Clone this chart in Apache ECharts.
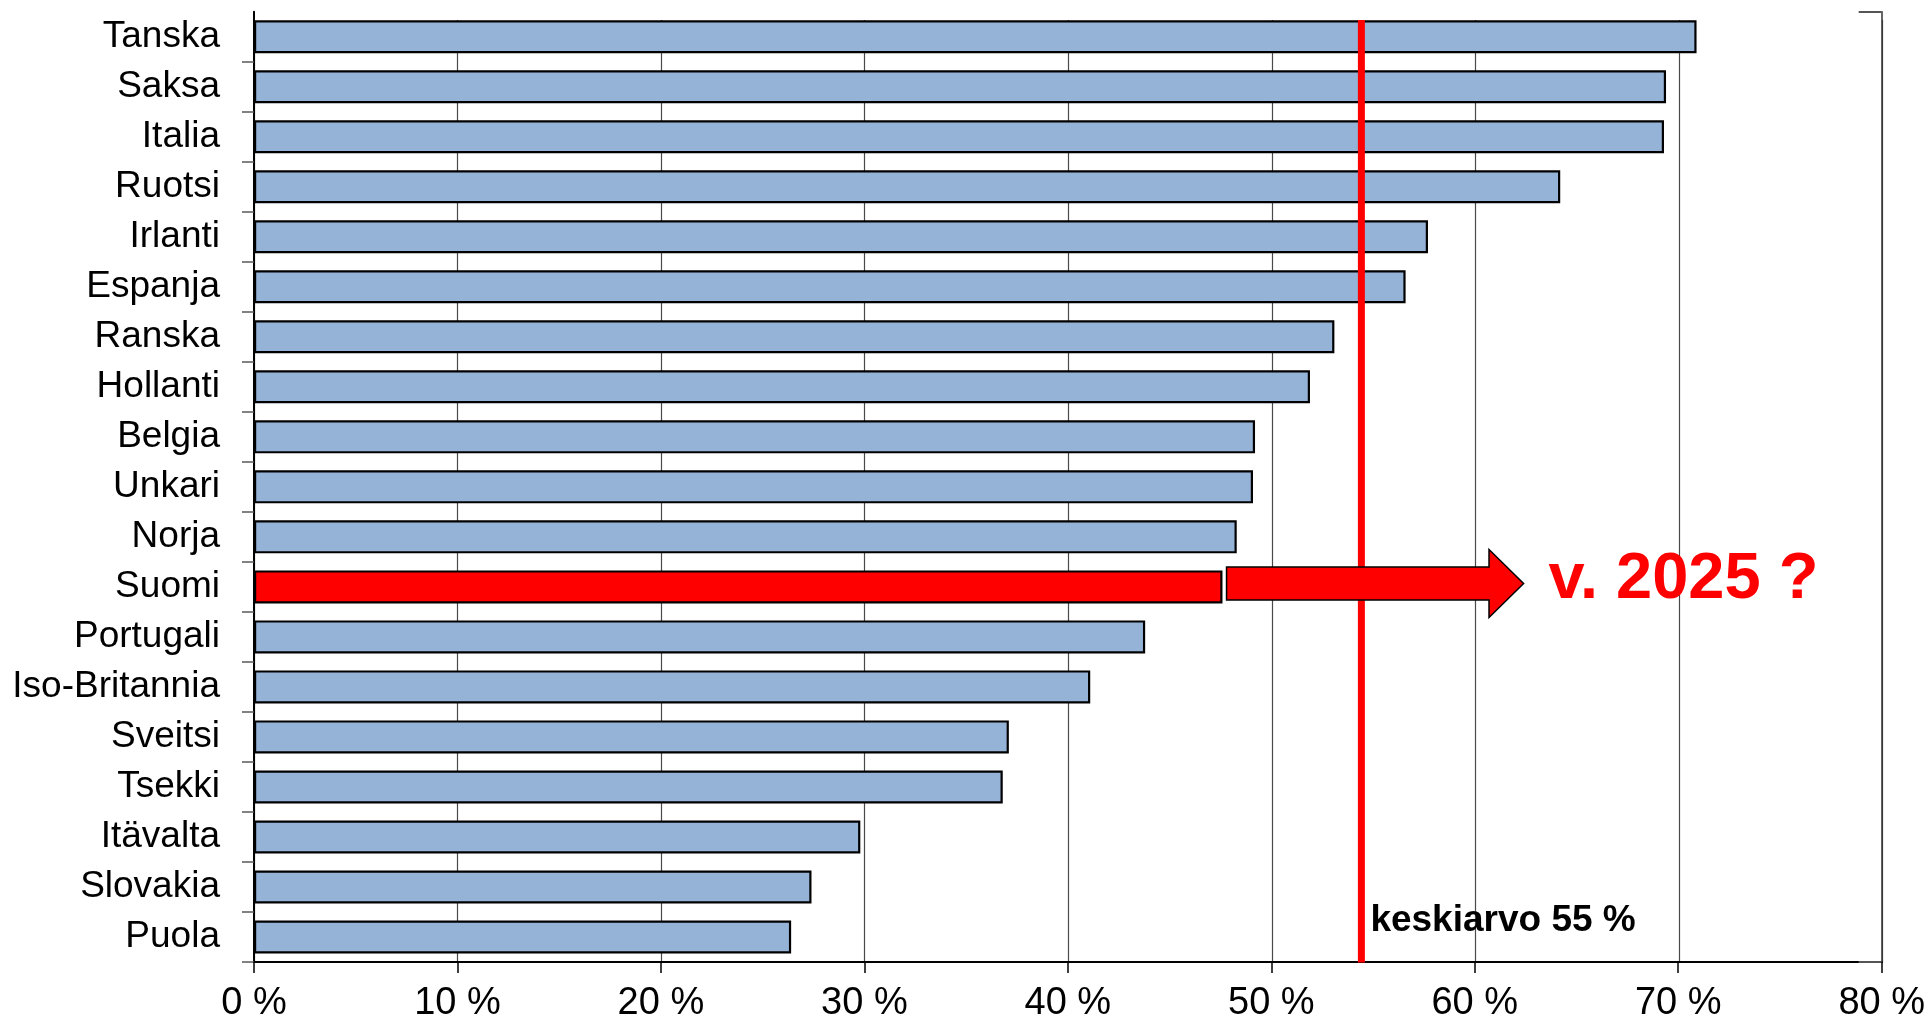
<!DOCTYPE html>
<html>
<head>
<meta charset="utf-8">
<script src="https://cdn.jsdelivr.net/npm/echarts@6/dist/echarts.min.js"></script>
<style>
  html, body { margin: 0; padding: 0; background: #fff; }
  #chart { width: 1928px; height: 1023px; }
</style>
</head>
<body>
<div id="chart"></div>
<script>
// data
const countries = ['Tanska', 'Saksa', 'Italia', 'Ruotsi', 'Irlanti', 'Espanja', 'Ranska', 'Hollanti', 'Belgia', 'Unkari',
    'Norja', 'Suomi', 'Portugali', 'Iso-Britannia', 'Sveitsi', 'Tsekki', 'Itävalta', 'Slovakia', 'Puola']
const shares = [70.9, 69.4, 69.3, 64.2, 57.7, 56.6, 53.1, 51.9, 49.2, 49.1,
    48.3, 47.6, 43.8, 41.1, 37.1, 36.8, 29.8, 27.4, 26.4]
const highlight = 'Suomi'
const average = 54.4
const averageLabel = 'keskiarvo 55 %'
// arrow: tail, head base, tip (in %)
const arrowValues = [47.8, 60.7, 62.4]
const arrowLabel = 'v. 2025 ?'
const xMin = 0, xMax = 80, xStep = 10

const FONT = '"Liberation Sans", Arial, sans-serif'
const BLUE = '#95B3D7'
const RED = '#FF0000'

const hiIndex = countries.indexOf(highlight)

const barData = shares.map((v, i) => ({
    value: v,
    itemStyle: { color: i === hiIndex ? RED : BLUE }
}))

const grids = {
    left: 254, right: 45.5, bottom: 60.5
}

const option = {
    animation: false,
    grid: [
        { ...grids, top: 11.7 },
        { ...grids, top: 20 } // gridlines + average line start a bit lower
    ],
    xAxis: [{
        type: 'value', gridIndex: 0,
        min: xMin, max: xMax, interval: xStep,
        axisLine: { show: true, lineStyle: { color: '#000', width: 2 } },
        axisTick: { show: true, length: 11, lineStyle: { color: '#000', width: 1.5 } },
        axisLabel: {
            formatter: '{value} %', fontSize: 38, fontFamily: FONT, color: '#000', margin: 23
        },
        splitLine: { show: false }
    }, {
        type: 'value', gridIndex: 1,
        min: xMin, max: xMax, interval: xStep,
        axisLine: { show: false }, axisTick: { show: false }, axisLabel: { show: false },
        splitLine: { show: true, lineStyle: { color: '#4a4a4a', width: 1.2 } }
    }],
    yAxis: [{
        type: 'category', gridIndex: 0,
        data: countries, inverse: true,
        axisLine: { show: true, lineStyle: { color: '#000', width: 2 } },
        axisTick: {
            show: true, length: 12,
            interval: (i) => i !== 0,
            lineStyle: { color: '#595959', width: 1.5 }
        },
        axisLabel: { fontSize: 37, fontFamily: FONT, color: '#000', margin: 34 }
    }, {
        // secondary axis on the right, only its top tick shows
        type: 'value', gridIndex: 0, position: 'right',
        min: 0, max: 1, interval: 1,
        axisLine: { show: true, lineStyle: { color: '#333', width: 1.5 } },
        axisTick: { show: true, inside: true, length: 23, lineStyle: { color: '#555', width: 2 } },
        axisLabel: { show: false },
        splitLine: { show: false }
    }, {
        type: 'value', gridIndex: 1, min: 0, max: 1, show: false
    }],
    series: [{
        type: 'bar',
        xAxisIndex: 0, yAxisIndex: 0,
        data: barData,
        barCategoryGap: '34%',
        itemStyle: { borderColor: '#000', borderWidth: 2.2 },
        z: 2
    }, {
        // average line
        type: 'custom',
        xAxisIndex: 1, yAxisIndex: 2,
        data: [[average]],
        z: 3,
        renderItem: (params, api) => {
            const v = api.value(0)
            const bottom = api.coord([v, 0])
            const top = api.coord([v, 1])
            return {
                type: 'group',
                children: [{
                    type: 'line',
                    shape: { x1: top[0], y1: top[1], x2: bottom[0], y2: bottom[1] },
                    style: { stroke: RED, lineWidth: 7 }
                }, {
                    type: 'text',
                    x: bottom[0] + 9, y: bottom[1] - 42,
                    style: {
                        text: averageLabel, fill: '#000',
                        font: 'bold 37px ' + FONT,
                        align: 'left', verticalAlign: 'middle'
                    }
                }]
            }
        }
    }, {
        // arrow out of the Suomi bar
        type: 'custom',
        xAxisIndex: 0, yAxisIndex: 0,
        data: [[arrowValues[0], arrowValues[1], arrowValues[2], hiIndex]],
        encode: { x: [0, 1, 2], y: 3 },
        z: 4,
        renderItem: (params, api) => {
            const idx = api.value(3)
            const tail = api.coord([api.value(0), idx])
            const base = api.coord([api.value(1), idx])
            const tip = api.coord([api.value(2), idx])
            const cy = tail[1] - 3.4
            const bh = 16.4, hh = 34
            return {
                type: 'group',
                children: [{
                    type: 'polygon',
                    shape: {
                        points: [
                            [tail[0], cy - bh], [base[0], cy - bh], [base[0], cy - hh],
                            [tip[0], cy], [base[0], cy + hh], [base[0], cy + bh], [tail[0], cy + bh]
                        ]
                    },
                    style: { fill: RED, stroke: '#000', lineWidth: 1.5 }
                }, {
                    type: 'text',
                    x: tip[0] + 25, y: cy - 3,
                    style: {
                        text: arrowLabel, fill: RED,
                        font: 'bold 65px ' + FONT,
                        align: 'left', verticalAlign: 'middle'
                    }
                }]
            }
        }
    }]
}

const chart = echarts.init(document.getElementById('chart'), null, { renderer: 'canvas' })
chart.setOption(option)
</script>
</body>
</html>
